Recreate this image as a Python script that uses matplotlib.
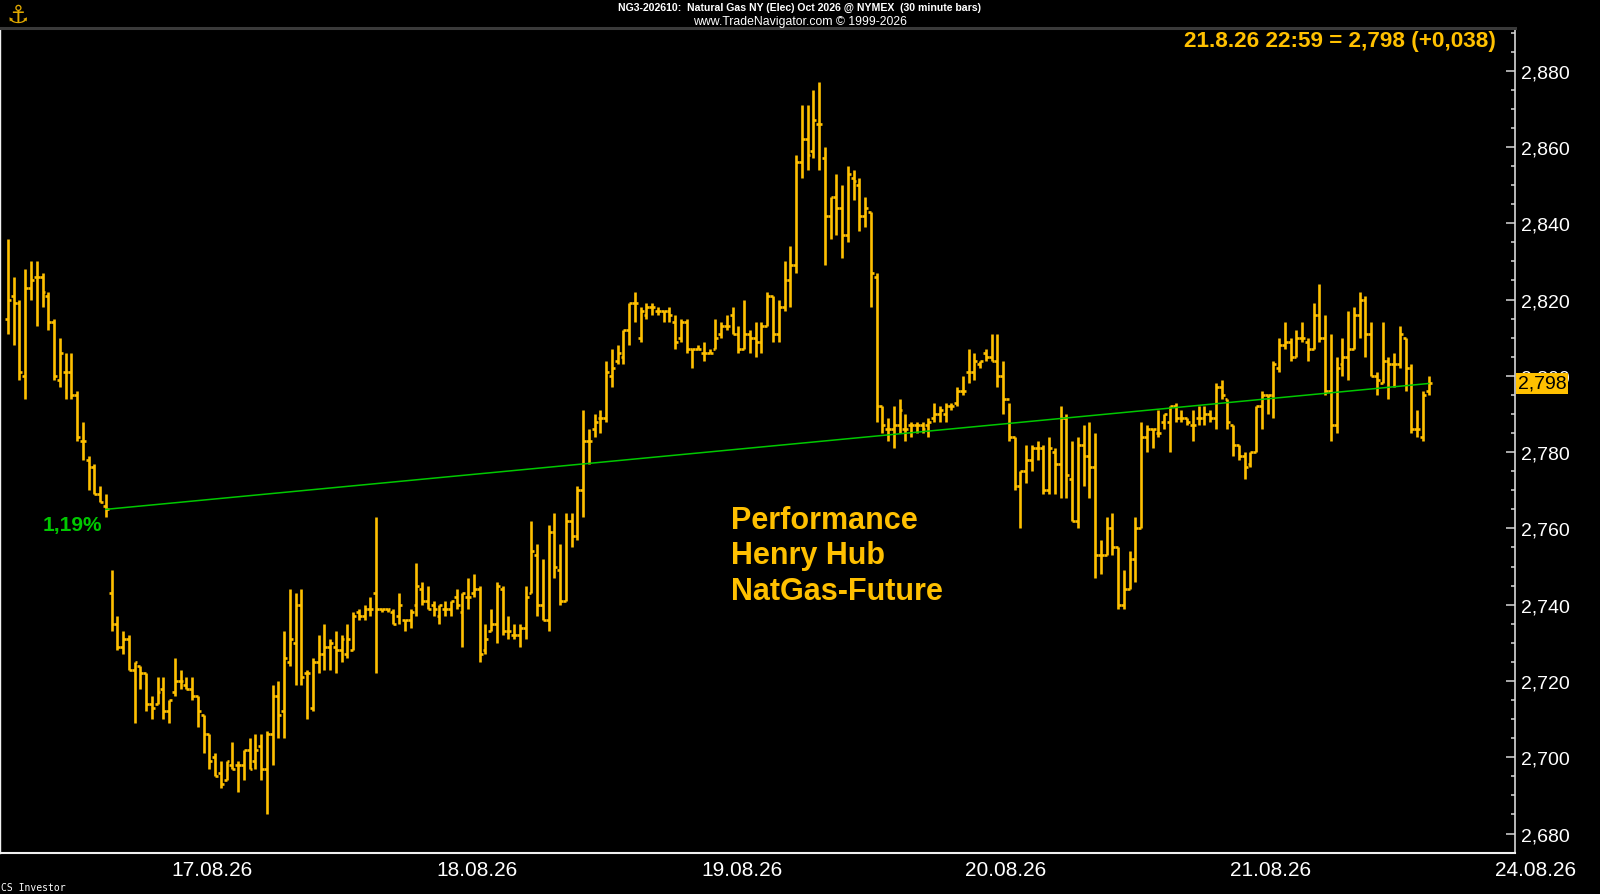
import matplotlib
matplotlib.use('Agg')
import matplotlib.pyplot as plt
import matplotlib.transforms as mtransforms
from matplotlib.collections import LineCollection
from matplotlib.ticker import MultipleLocator, FuncFormatter

plt.rcParams['font.family'] = ['Liberation Sans', 'DejaVu Sans']

# ---------------- data (30 minute bars, NG Oct 2026) ----------------
opens = [
    2.815, 2.821, 2.819, 2.800, 2.823, 2.826, 2.826, 2.821, 2.814, 2.799, 2.801, 2.801, 2.795, 2.783, 2.778, 2.776, 2.769, 2.766,
    2.743, 2.735, 2.729, 2.731, 2.723, 2.724, 2.722, 2.714, 2.714, 2.718, 2.712, 2.717, 2.720, 2.719, 2.718, 2.716, 2.711, 2.706,
    2.700, 2.696, 2.694, 2.698, 2.698, 2.698, 2.702, 2.699, 2.703, 2.697, 2.706, 2.716, 2.712, 2.725, 2.730, 2.740, 2.722, 2.713,
    2.725, 2.727, 2.729, 2.729, 2.728, 2.727, 2.728, 2.738, 2.737, 2.739, 2.743, 2.739, 2.739, 2.738, 2.737,
    2.736, 2.736, 2.740, 2.744, 2.741, 2.740, 2.737, 2.739, 2.739, 2.742, 2.738, 2.742, 2.743, 2.744, 2.728, 2.733, 2.735, 2.744,
    2.733, 2.732, 2.732, 2.734, 2.743, 2.753, 2.740, 2.736, 2.759, 2.749, 2.741, 2.762, 2.758, 2.770, 2.783, 2.786, 2.789, 2.789,
    2.800, 2.804, 2.805, 2.812, 2.819,
    2.810, 2.816, 2.818, 2.817, 2.817, 2.817, 2.814, 2.810, 2.814, 2.807, 2.807, 2.806, 2.806, 2.807, 2.811, 2.813, 2.816, 2.811,
    2.807, 2.811, 2.810, 2.809, 2.813, 2.821, 2.811, 2.818, 2.825, 2.829, 2.856, 2.862, 2.859, 2.866, 2.857, 2.842, 2.847, 2.844,
    2.837, 2.852, 2.850, 2.842, 2.843, 2.826,
    2.792, 2.786, 2.786, 2.787, 2.786, 2.787, 2.787, 2.787, 2.787, 2.789, 2.790, 2.790, 2.792, 2.793, 2.796, 2.801, 2.801, 2.803,
    2.806, 2.805, 2.804, 2.800, 2.794, 2.784, 2.771, 2.775, 2.778, 2.781, 2.781, 2.770, 2.780, 2.777, 2.789, 2.773, 2.762, 2.782,
    2.779, 2.776,
    2.753, 2.753, 2.760, 2.755, 2.740, 2.744, 2.752, 2.760,
    2.784, 2.786, 2.785, 2.788, 2.788, 2.792, 2.789, 2.789, 2.787, 2.789, 2.789, 2.790, 2.789, 2.797, 2.794, 2.787, 2.782, 2.779,
    2.777, 2.780, 2.792, 2.795, 2.795, 2.802, 2.808, 2.809, 2.805, 2.810, 2.809, 2.807, 2.816, 2.810, 2.796, 2.787, 2.803, 2.805,
    2.807, 2.816, 2.820, 2.811, 2.800, 2.798, 2.804, 2.803, 2.803, 2.810, 2.802, 2.786, 2.784, 2.796,
]
highs = [
    2.836, 2.826, 2.820, 2.828, 2.830, 2.830, 2.827, 2.822, 2.815, 2.810, 2.806, 2.806, 2.796, 2.788, 2.779, 2.777, 2.771, 2.769,
    2.749, 2.737, 2.733, 2.732, 2.725, 2.724, 2.722, 2.716, 2.721, 2.721, 2.715, 2.726, 2.723, 2.721, 2.721, 2.716, 2.711, 2.706,
    2.701, 2.699, 2.699, 2.704, 2.699, 2.702, 2.705, 2.706, 2.706, 2.707, 2.719, 2.720, 2.733, 2.744, 2.743, 2.744, 2.723, 2.726,
    2.732, 2.735, 2.731, 2.733, 2.732, 2.735, 2.738, 2.739, 2.740, 2.742, 2.763, 2.739, 2.739, 2.739, 2.743,
    2.736, 2.739, 2.751, 2.746, 2.745, 2.741, 2.740, 2.741, 2.741, 2.744, 2.743, 2.747, 2.748, 2.745, 2.735, 2.739, 2.746, 2.745,
    2.737, 2.735, 2.735, 2.745, 2.762, 2.756, 2.752, 2.761, 2.764, 2.756, 2.764, 2.764, 2.771, 2.791, 2.786, 2.790, 2.791, 2.804,
    2.807, 2.808, 2.812, 2.819, 2.822,
    2.818, 2.819, 2.819, 2.818, 2.817, 2.818, 2.816, 2.815, 2.815, 2.807, 2.808, 2.809, 2.807, 2.815, 2.814, 2.816, 2.818, 2.813,
    2.820, 2.812, 2.814, 2.814, 2.822, 2.821, 2.820, 2.830, 2.834, 2.858, 2.871, 2.871, 2.875, 2.877, 2.860, 2.847, 2.853, 2.850,
    2.855, 2.854, 2.852, 2.847, 2.843, 2.827,
    2.792, 2.789, 2.792, 2.794, 2.790, 2.788, 2.788, 2.788, 2.789, 2.793, 2.792, 2.793, 2.793, 2.797, 2.800, 2.807, 2.806, 2.804,
    2.807, 2.811, 2.811, 2.804, 2.793, 2.784, 2.775, 2.782, 2.782, 2.783, 2.782, 2.784, 2.781, 2.792, 2.790, 2.783, 2.784, 2.787,
    2.788, 2.785,
    2.757, 2.763, 2.764, 2.755, 2.749, 2.754, 2.763, 2.788,
    2.787, 2.786, 2.791, 2.790, 2.792, 2.793, 2.791, 2.789, 2.791, 2.792, 2.792, 2.791, 2.798, 2.799, 2.794, 2.787, 2.782, 2.780,
    2.780, 2.792, 2.796, 2.795, 2.804, 2.810, 2.814, 2.810, 2.812, 2.814, 2.810, 2.819, 2.824, 2.816, 2.811, 2.805, 2.810, 2.817,
    2.818, 2.822, 2.821, 2.814, 2.801, 2.814, 2.805, 2.806, 2.813, 2.810, 2.803, 2.791, 2.796, 2.800,
]
lows = [
    2.811, 2.808, 2.799, 2.794, 2.820, 2.813, 2.818, 2.812, 2.799, 2.797, 2.794, 2.794, 2.783, 2.778, 2.770, 2.769, 2.767, 2.763,
    2.733, 2.728, 2.727, 2.723, 2.709, 2.718, 2.712, 2.710, 2.714, 2.710, 2.709, 2.716, 2.718, 2.718, 2.715, 2.708, 2.701, 2.697,
    2.695, 2.692, 2.694, 2.697, 2.691, 2.694, 2.697, 2.697, 2.694, 2.685, 2.698, 2.705, 2.705, 2.724, 2.719, 2.719, 2.710, 2.712,
    2.722, 2.723, 2.723, 2.722, 2.725, 2.726, 2.728, 2.736, 2.736, 2.737, 2.722, 2.738, 2.738, 2.735, 2.735,
    2.733, 2.734, 2.737, 2.740, 2.739, 2.737, 2.735, 2.737, 2.737, 2.739, 2.729, 2.739, 2.742, 2.725, 2.727, 2.733, 2.730, 2.732,
    2.731, 2.731, 2.729, 2.731, 2.743, 2.737, 2.736, 2.733, 2.747, 2.740, 2.741, 2.755, 2.757, 2.763, 2.777, 2.784, 2.785, 2.788,
    2.797, 2.803, 2.803, 2.808, 2.814,
    2.809, 2.815, 2.816, 2.816, 2.814, 2.814, 2.807, 2.809, 2.806, 2.802, 2.807, 2.804, 2.806, 2.807, 2.810, 2.812, 2.811, 2.806,
    2.807, 2.806, 2.805, 2.806, 2.813, 2.809, 2.809, 2.817, 2.818, 2.827, 2.852, 2.854, 2.857, 2.854, 2.829, 2.836, 2.837, 2.831,
    2.835, 2.846, 2.838, 2.839, 2.818, 2.788,
    2.785, 2.783, 2.781, 2.785, 2.783, 2.784, 2.785, 2.785, 2.784, 2.788, 2.788, 2.788, 2.791, 2.792, 2.795, 2.798, 2.799, 2.802,
    2.804, 2.804, 2.797, 2.790, 2.783, 2.770, 2.760, 2.772, 2.775, 2.778, 2.769, 2.769, 2.769, 2.768, 2.768, 2.762, 2.760, 2.771,
    2.768, 2.747,
    2.748, 2.753, 2.753, 2.739, 2.739, 2.744, 2.746, 2.760,
    2.780, 2.781, 2.784, 2.786, 2.780, 2.788, 2.788, 2.787, 2.783, 2.787, 2.787, 2.788, 2.786, 2.794, 2.786, 2.779, 2.778, 2.773,
    2.776, 2.780, 2.786, 2.790, 2.789, 2.801, 2.807, 2.804, 2.805, 2.809, 2.804, 2.807, 2.809, 2.795, 2.783, 2.785, 2.800, 2.799,
    2.807, 2.810, 2.805, 2.800, 2.795, 2.798, 2.794, 2.797, 2.802, 2.796, 2.785, 2.784, 2.783, 2.795,
]
closes = [
    2.820, 2.819, 2.801, 2.823, 2.825, 2.826, 2.822, 2.814, 2.800, 2.806, 2.801, 2.795, 2.784, 2.783, 2.776, 2.769, 2.767, 2.765,
    2.735, 2.729, 2.731, 2.723, 2.725, 2.722, 2.714, 2.713, 2.717, 2.712, 2.715, 2.720, 2.720, 2.718, 2.716, 2.712, 2.706, 2.699,
    2.695, 2.693, 2.699, 2.697, 2.698, 2.702, 2.697, 2.702, 2.697, 2.706, 2.716, 2.711, 2.726, 2.731, 2.740, 2.721, 2.722, 2.725,
    2.727, 2.729, 2.730, 2.728, 2.731, 2.731, 2.737, 2.737, 2.739, 2.739, 2.739, 2.739, 2.739, 2.735, 2.740,
    2.736, 2.738, 2.745, 2.741, 2.739, 2.739, 2.740, 2.739, 2.741, 2.740, 2.743, 2.742, 2.744, 2.727, 2.731, 2.735, 2.745, 2.733,
    2.733, 2.732, 2.734, 2.742, 2.754, 2.740, 2.736, 2.759, 2.750, 2.741, 2.762, 2.758, 2.770, 2.783, 2.783, 2.788, 2.789, 2.801,
    2.802, 2.806, 2.812, 2.819, 2.819,
    2.817, 2.818, 2.818, 2.817, 2.817, 2.816, 2.809, 2.814, 2.807, 2.807, 2.807, 2.806, 2.806, 2.810, 2.813, 2.813, 2.811, 2.807,
    2.811, 2.810, 2.809, 2.813, 2.821, 2.811, 2.818, 2.825, 2.829, 2.856, 2.862, 2.858, 2.867, 2.866, 2.842, 2.847, 2.844, 2.837,
    2.853, 2.851, 2.842, 2.844, 2.827, 2.792,
    2.787, 2.786, 2.787, 2.791, 2.786, 2.787, 2.787, 2.786, 2.788, 2.790, 2.791, 2.792, 2.792, 2.796, 2.796, 2.801, 2.804, 2.804,
    2.805, 2.804, 2.800, 2.794, 2.784, 2.771, 2.775, 2.778, 2.781, 2.781, 2.770, 2.781, 2.777, 2.789, 2.774, 2.762, 2.782, 2.779,
    2.776, 2.753,
    2.753, 2.760, 2.755, 2.740, 2.744, 2.752, 2.760, 2.784,
    2.786, 2.786, 2.785, 2.790, 2.792, 2.789, 2.789, 2.788, 2.787, 2.789, 2.790, 2.789, 2.797, 2.795, 2.788, 2.782, 2.779, 2.776,
    2.780, 2.792, 2.795, 2.795, 2.803, 2.808, 2.809, 2.805, 2.810, 2.810, 2.807, 2.816, 2.810, 2.796, 2.787, 2.802, 2.805, 2.807,
    2.816, 2.820, 2.811, 2.800, 2.799, 2.804, 2.803, 2.803, 2.811, 2.802, 2.786, 2.786, 2.795, 2.798,
]

date_labels = ['17.08.26', '18.08.26', '19.08.26', '20.08.26', '21.08.26', '24.08.26']
date_label_bar = [35.5, 81.6, 127.6, 173.5, 219.5, 265.6]   # bar-index position of each label
perf_start_bar = 17          # bar where the performance line starts
prev_settle = 2.760          # previous settlement for the change display
last_stamp = '21.8.26 22:59'

title1 = 'NG3-202610:  Natural Gas NY (Elec) Oct 2026 @ NYMEX  (30 minute bars)'
title2 = 'www.TradeNavigator.com \u00a9 1999-2026'
note_lines = ['Performance', 'Henry Hub', 'NatGas-Future']

# ---------------- style ----------------
GOLD = '#FFC000'
GREEN = '#00C800'
W, H = 1600, 895


def comma(v, nd=3):
    return f'{v:.{nd}f}'.replace('.', ',')


fig = plt.figure(figsize=(W / 100, H / 100), dpi=100, facecolor='black')
ax = fig.add_axes([0.0, 1 - 854 / H, 1515 / W, (854 - 29) / H])
ax.set_facecolor('black')

n = min(len(opens), len(highs), len(lows), len(closes))
idx = list(range(n))

segs = []
for i in idx:
    segs.append([(i, lows[i]), (i, highs[i])])
    segs.append([(i - 0.5, opens[i]), (i, opens[i])])
    segs.append([(i, closes[i]), (i + 0.5, closes[i])])
lc = LineCollection(segs, colors=GOLD, linewidths=1.9, capstyle='butt', zorder=2)
ax.add_collection(lc)

# performance line
last = n - 1
ax.plot([perf_start_bar, last], [closes[perf_start_bar], closes[last]],
        color=GREEN, lw=1.1, zorder=3)
pct = (closes[last] / closes[perf_start_bar] - 1) * 100
ax.annotate(comma(pct, 2) + '%', xy=(perf_start_bar, closes[perf_start_bar]),
            xytext=(-2.5, -11), textcoords='offset points', ha='right', va='center',
            color=GREEN, fontsize=15, fontweight='bold')

ax.set_xlim(-1.39, 262.0)
ax.set_ylim(2.6749, 2.8912)

# axes frame
for side, col, lw in [('top', '#3a3a3a', 2.2), ('right', '#d8d8d8', 1.2),
                      ('bottom', '#f0f0f0', 1.5), ('left', '#f0f0f0', 1.0)]:
    ax.spines[side].set_color(col)
    ax.spines[side].set_linewidth(lw)

ax.set_xticks([])
ax.yaxis.tick_right()
ax.yaxis.set_major_locator(MultipleLocator(0.02))
ax.yaxis.set_minor_locator(MultipleLocator(0.005))
ax.yaxis.set_major_formatter(FuncFormatter(lambda v, p: comma(v)))
ax.tick_params(axis='y', which='major', direction='in', length=6.5, width=1.1,
               color='#d8d8d8', labelcolor='white', labelsize=14, pad=4)
ax.tick_params(axis='y', which='minor', direction='in', length=3, width=1.1, color='#d8d8d8')

# date labels
trans_x = mtransforms.blended_transform_factory(ax.transData, fig.transFigure)
for lab, pos in zip(date_labels, date_label_bar):
    ax.text(pos, 1 - 871 / H, lab, transform=trans_x, ha='center', va='center',
            color='white', fontsize=15, clip_on=False)

# last price box on the axis
trans_y = mtransforms.blended_transform_factory(ax.transAxes, ax.transData)
ax.annotate(comma(closes[last]), xy=(1.0, closes[last]), xycoords=trans_y,
            xytext=(2, 0), textcoords='offset points', ha='left', va='center',
            color='black', fontsize=14, annotation_clip=False, zorder=5,
            bbox=dict(boxstyle='square,pad=0.1', fc=GOLD, ec='none'))

# header
fig.text(0.5, 1 - 8 / H, title1, ha='center', va='center', color='white',
         fontsize=7.6, fontweight='bold')
fig.text(0.5, 1 - 22.5 / H, title2, ha='center', va='center', color='white',
         fontsize=8.8)
fig.text(18 / W, 1 - 16 / H, '\u2693', ha='center', va='center', color='#E0A800',
         fontsize=18, family=['DejaVu Sans'])

fig.text(1496 / W, 1 - 41 / H,
         f'{last_stamp} = {comma(closes[last])} (+{comma(closes[last] - prev_settle)})',
         ha='right', va='center', color=GOLD, fontsize=16.2, fontweight='bold')

# annotation text
for line, ybase in zip(note_lines, [529, 564, 600]):
    fig.text(730.6 / W, 1 - ybase / H, line, ha='left', va='baseline', color=GOLD,
             fontsize=22, fontweight='bold')

fig.text(1 / W, 1 - 888 / H, 'CS Investor', ha='left', va='center', color='white',
         fontsize=7, family=['DejaVu Sans Mono'])

fig.savefig('out.png', dpi=100, facecolor='black')
